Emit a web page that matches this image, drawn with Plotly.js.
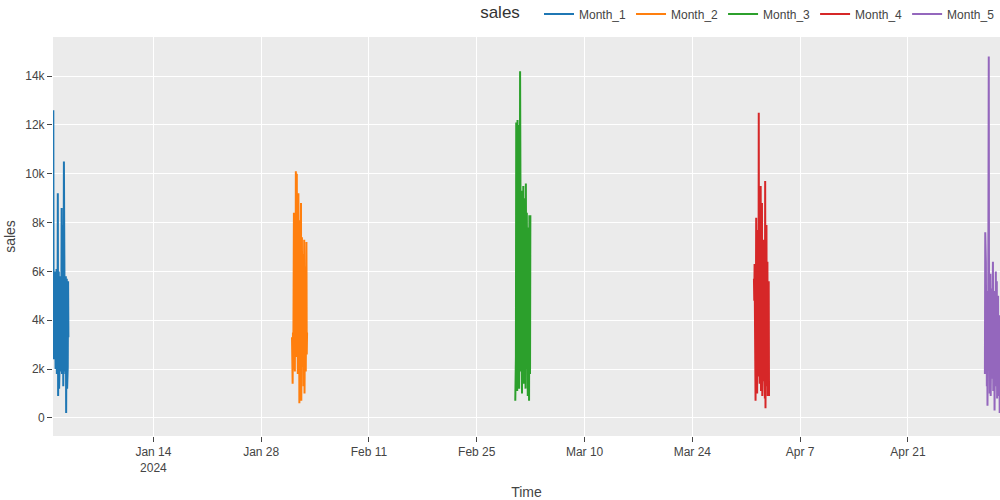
<!DOCTYPE html>
<html>
<head>
<meta charset="utf-8">
<script src="https://cdn.plot.ly/plotly-3.0.1.min.js"></script>
<style>html,body{margin:0;padding:0;background:#fff;}#chart{width:1000px;height:500px;}</style>
</head>
<body>
<div id="chart"></div>
<script>
// Series names and the first day of each burst (hourly readings over two days)
const seriesNames = ['Month_1', 'Month_2', 'Month_3', 'Month_4', 'Month_5'];
const monthStarts = ['2024-01-01', '2024-02-01', '2024-03-01', '2024-04-01', '2024-05-01'];
const colors = ['#1f77b4', '#ff7f0e', '#2ca02c', '#d62728', '#9467bd'];

const month1 = [12600, 2400, 5100, 3600, 6000, 2900, 4800, 2000, 5200, 3200, 6100, 1800, 4500, 2600, 9200, 900,
  3800, 6000, 1200, 5300, 2400, 4900, 1900, 5800, 3000, 4200, 8600, 1800, 5600, 2500, 7900, 1300,
  4700, 10500, 3000, 5800, 1900, 4300, 1800, 5800, 200, 3700, 5700, 1200, 4500, 2100, 5600, 3300];
const month2 = [3300, 2800, 1400, 3500, 2000, 5200, 8400, 2600, 6100, 1900, 7200, 3400, 10100, 2500, 6800, 10000,
  3100, 7700, 1800, 5400, 9200, 2900, 6300, 600, 4800, 8100, 2200, 5900, 8800, 700, 4600, 7400,
  2100, 5200, 3600, 6700, 1300, 4900, 7300, 1000, 5400, 3000, 6200, 1900, 4700, 7200, 2600, 3500];
const month3 = [700, 2300, 2500, 12100, 3100, 7800, 1100, 12200, 4600, 9100, 2200, 12000, 1200, 8700, 3700, 14200,
  2900, 9600, 1900, 6400, 9300, 1000, 5700, 8200, 3300, 9500, 1400, 6900, 3900, 9000, 2700, 7600,
  1200, 9600, 4800, 2000, 8400, 3400, 6100, 900, 7800, 2400, 5900, 700, 8300, 3700, 1800, 8300];
const month4 = [5700, 4800, 6300, 1200, 5100, 700, 4200, 8200, 1800, 6600, 1000, 7700, 3400, 5900, 1700, 12500,
  2300, 3900, 1400, 7100, 2600, 9500, 1100, 6000, 3100, 8800, 900, 5400, 2200, 7300, 1500, 4300,
  3600, 6800, 800, 9700, 400, 5200, 2500, 7900, 1300, 3800, 6400, 900, 4700, 1800, 5600, 900];
const month5 = [1800, 7600, 2600, 6400, 3100, 5200, 1300, 4700, 500, 3900, 2200, 5800, 14800, 2700, 4500, 1000,
  3600, 5900, 900, 4200, 2800, 5300, 1600, 4900, 3000, 6400, 1100, 4400, 2500, 5200, 300, 3700,
  4800, 1800, 6000, 1300, 3900, 5600, 800, 4600, 2000, 5000, 1500, 3400, 900, 4200, 200, 1500];
const seriesValues = [month1, month2, month3, month4, month5];

function hourlyTimes(start, n) {
  const out = [];
  const t0 = new Date(start + 'T00:00:00Z').getTime();
  for (let i = 0; i < n; i++) {
    const d = new Date(t0 + i * 3600 * 1000);
    out.push(d.toISOString().slice(0, 19).replace('T', ' '));
  }
  return out;
}

const traces = seriesNames.map((name, k) => ({
  type: 'scatter',
  mode: 'lines',
  name: name,
  x: hourlyTimes(monthStarts[k], seriesValues[k].length),
  y: seriesValues[k],
  line: {color: colors[k], width: 2}
}));

const layout = {
  width: 1000,
  height: 500,
  margin: {l: 53, r: 0, t: 37, b: 64, autoexpand: false},
  paper_bgcolor: '#ffffff',
  plot_bgcolor: '#ebebeb',
  font: {family: 'Liberation Sans, Arial, sans-serif', size: 12, color: '#444'},
  title: {text: 'sales', x: 0.5, xanchor: 'center', y: 0.975, yanchor: 'middle', font: {size: 17, color: '#333'}},
  showlegend: true,
  legend: {orientation: 'h', x: 1, xanchor: 'right', y: 1.0575, yanchor: 'middle', font: {size: 12, color: '#444'}, bgcolor: 'rgba(0,0,0,0)'},
  xaxis: {
    title: {text: 'Time', font: {size: 14, color: '#444'}, standoff: 22},
    type: 'date',
    range: ['2023-12-31 23:00', '2024-05-02 23:00'],
    showgrid: true, gridcolor: '#ffffff', gridwidth: 1,
    zeroline: false,
    ticks: 'outside', ticklen: 5, tickcolor: '#444',
    showline: false
  },
  yaxis: {
    title: {text: 'sales', font: {size: 14, color: '#444'}},
    range: [-740, 15600],
    tickvals: [0, 2000, 4000, 6000, 8000, 10000, 12000, 14000],
    ticktext: ['0', '2k', '4k', '6k', '8k', '10k', '12k', '14k'],
    showgrid: true, gridcolor: '#ffffff', gridwidth: 1,
    zeroline: false,
    ticks: 'outside', ticklen: 5, tickcolor: '#444',
    showline: false
  }
};

Plotly.newPlot('chart', traces, layout, {displayModeBar: false, staticPlot: true});
</script>
</body>
</html>
